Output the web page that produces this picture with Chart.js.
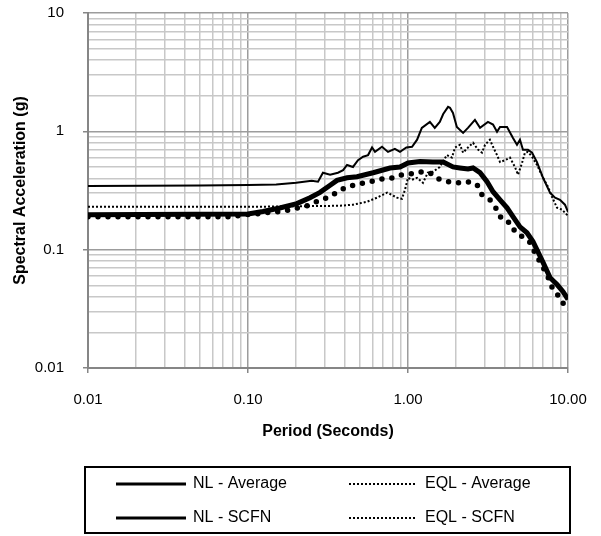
<!DOCTYPE html>
<html>
<head>
<meta charset="utf-8">
<script src="https://cdn.jsdelivr.net/npm/chart.js@4.4.1/dist/chart.umd.min.js"></script>
<style>
  html, body { margin: 0; padding: 0; background: #fff; }
</style>
</head>
<body>
<canvas id="spectra" width="601" height="536"></canvas>
<script>
// ======== Data ========
const seriesNames = ['NL - Average', 'EQL - Average', 'NL - SCFN', 'EQL - SCFN']

const nlAvgPeriod = [0.01, 0.1, 0.124, 0.158, 0.202, 0.244, 0.282, 0.326, 0.36, 0.416, 0.48, 0.605, 0.772, 0.891, 1.0, 1.19, 1.43, 1.66, 1.91, 2.11, 2.37, 2.55, 2.82, 3.12, 3.40, 3.76, 4.16, 4.53, 5.01, 5.54, 6.04, 6.49, 6.98, 7.72, 8.54, 9.31, 10]
const nlAvgSa = [0.197, 0.2, 0.21, 0.225, 0.245, 0.275, 0.305, 0.35, 0.385, 0.405, 0.413, 0.447, 0.49, 0.50, 0.54, 0.555, 0.55, 0.55, 0.50, 0.49, 0.48, 0.49, 0.447, 0.375, 0.309, 0.264, 0.226, 0.19, 0.156, 0.139, 0.117, 0.096, 0.078, 0.058, 0.0507, 0.0442, 0.038]

const eqlAvgPeriod = [0.01, 0.077, 0.0957, 0.111, 0.128, 0.152, 0.175, 0.202, 0.234, 0.27, 0.312, 0.36, 0.404, 0.467, 0.538, 0.622, 0.698, 0.806, 0.917, 1.06, 1.22, 1.37, 1.54, 1.78, 2.05, 2.37, 2.70, 2.90, 3.25, 3.50, 3.87, 4.34, 4.66, 5.16, 5.79, 6.22, 6.68, 7.40, 8.06, 8.91, 9.57, 10]
const eqlAvgSa = [0.19, 0.19, 0.197, 0.2, 0.205, 0.209, 0.215, 0.225, 0.235, 0.255, 0.275, 0.305, 0.334, 0.354, 0.367, 0.382, 0.397, 0.405, 0.43, 0.438, 0.455, 0.447, 0.397, 0.375, 0.367, 0.375, 0.354, 0.291, 0.264, 0.231, 0.179, 0.169, 0.142, 0.129, 0.115, 0.094, 0.079, 0.0615, 0.046, 0.0394, 0.033, 0.031]

const nlScfnPeriod = [0.01, 0.05, 0.1, 0.15, 0.2, 0.25, 0.274, 0.294, 0.326, 0.365, 0.393, 0.416, 0.453, 0.487, 0.524, 0.563, 0.596, 0.622, 0.688, 0.75, 0.828, 0.891, 0.977, 1.06, 1.14, 1.22, 1.37, 1.47, 1.58, 1.66, 1.78, 1.83, 1.91, 2.02, 2.21, 2.37, 2.62, 2.82, 3.16, 3.40, 3.60, 3.76, 4.16, 4.53, 4.80, 5.01, 5.23, 5.62, 5.96, 6.40, 6.98, 7.72, 8.30, 8.91, 9.57, 10]
const nlScfnSa = [0.345, 0.348, 0.352, 0.356, 0.367, 0.382, 0.375, 0.447, 0.43, 0.447, 0.47, 0.52, 0.50, 0.57, 0.61, 0.63, 0.73, 0.67, 0.74, 0.67, 0.71, 0.67, 0.73, 0.74, 0.85, 1.07, 1.20, 1.07, 1.20, 1.40, 1.61, 1.58, 1.43, 1.09, 0.97, 1.07, 1.25, 1.07, 1.20, 1.14, 0.99, 1.09, 1.09, 0.88, 0.77, 0.85, 0.70, 0.70, 0.66, 0.55, 0.405, 0.303, 0.275, 0.264, 0.24, 0.209]

const eqlScfnPeriod = [0.01, 0.1, 0.376, 0.453, 0.555, 0.64, 0.74, 0.79, 0.853, 0.917, 0.957, 1.0, 1.06, 1.14, 1.24, 1.33, 1.43, 1.58, 1.75, 1.88, 1.97, 2.11, 2.21, 2.37, 2.55, 2.74, 2.90, 3.03, 3.25, 3.40, 3.60, 3.76, 4.04, 4.34, 4.66, 4.87, 5.16, 5.38, 5.62, 5.96, 6.40, 6.98, 7.50, 7.94, 8.54, 9.17, 9.86, 10]
const eqlScfnSa = [0.23, 0.23, 0.235, 0.24, 0.254, 0.275, 0.303, 0.291, 0.275, 0.269, 0.32, 0.405, 0.39, 0.405, 0.367, 0.447, 0.455, 0.50, 0.63, 0.60, 0.73, 0.77, 0.66, 0.73, 0.80, 0.70, 0.66, 0.77, 0.85, 0.74, 0.63, 0.55, 0.57, 0.60, 0.50, 0.43, 0.54, 0.66, 0.67, 0.61, 0.52, 0.405, 0.34, 0.28, 0.226, 0.218, 0.197, 0.19]

// axis decades and their labels
const xDecades = [0.01, 0.1, 1, 10]
const xTickLabels = ['0.01', '0.10', '1.00', '10.00']
const yDecades = [0.01, 0.1, 1, 10]
const yTickLabels = ['0.01', '0.1', '1', '10']

// ======== helpers ========
const toPoints = (xs, ys) => xs.map((x, i) => ({ x: x, y: ys[i] }))

// 1..9 per decade, so every log grid line is a tick
const logGrid = (decades) => {
    const vals = []
    for (let d = 0; d < decades.length - 1; d++) {
        for (let m = 1; m < 10; m++) vals.push(parseFloat((decades[d] * m).toPrecision(6)))
    }
    vals.push(decades[decades.length - 1])
    return vals
}

const isDecade = (v) => Math.abs(Math.log10(v) - Math.round(Math.log10(v))) < 1e-9

const labelFor = (decades, labels) => (v) => {
    const i = decades.findIndex(d => Math.abs(d - v) < d * 1e-6)
    return i >= 0 ? labels[i] : ''
}

const gridColor = (ctx) => (ctx.tick && isDecade(ctx.tick.value)) ? '#9c9c9c' : '#c8c8c8'
const tickMarkColor = (ctx) => (ctx.tick && isDecade(ctx.tick.value)) ? '#868686' : 'rgba(0,0,0,0)'

// legend drawn as a boxed 2x2 table, like the spreadsheet one
const boxLegend = {
    id: 'boxLegend',
    afterDraw(chart) {
        const ctx = chart.ctx
        ctx.save()
        ctx.strokeStyle = '#000'
        ctx.lineWidth = 2
        ctx.strokeRect(85, 467, 485, 66)

        const cols = [{ x0: 116, x1: 186, tx: 193 }, { x0: 349, x1: 417, tx: 425 }]
        const rows = [484, 518]
        ctx.font = '16px "Liberation Sans", Arial, sans-serif'
        ctx.textBaseline = 'middle'
        ctx.fillStyle = '#000'
        seriesNames.forEach((name, i) => {
            const c = cols[i % 2]
            const y = rows[Math.floor(i / 2)]
            ctx.beginPath()
            if (i % 2 === 0) {
                ctx.setLineDash([])
                ctx.lineWidth = 3
            } else {
                ctx.setLineDash([2, 2])
                ctx.lineWidth = 2
            }
            ctx.moveTo(c.x0, y)
            ctx.lineTo(c.x1, y)
            ctx.stroke()
            ctx.fillText(name, c.tx, y)
        })
        ctx.restore()
    }
}

const tickFont = { family: '"Liberation Sans", Arial, sans-serif', size: 15 }
const titleFont = { family: '"Liberation Sans", Arial, sans-serif', size: 16, weight: 'bold' }

new Chart(document.getElementById('spectra').getContext('2d'), {
    type: 'line',
    data: {
        datasets: [
            {
                label: seriesNames[2],
                data: toPoints(nlScfnPeriod, nlScfnSa),
                borderColor: '#000',
                borderWidth: 2,
                pointRadius: 0,
                tension: 0
            },
            {
                label: seriesNames[3],
                data: toPoints(eqlScfnPeriod, eqlScfnSa),
                borderColor: '#000',
                borderWidth: 2,
                borderDash: [2, 2],
                pointRadius: 0,
                tension: 0
            },
            {
                label: seriesNames[1],
                data: toPoints(eqlAvgPeriod, eqlAvgSa),
                borderColor: '#000',
                borderWidth: 5.5,
                borderDash: [0, 10],
                borderCapStyle: 'round',
                pointRadius: 0,
                tension: 0
            },
            {
                label: seriesNames[0],
                data: toPoints(nlAvgPeriod, nlAvgSa),
                borderColor: '#000',
                borderWidth: 5,
                pointRadius: 0,
                tension: 0
            }
        ]
    },
    options: {
        responsive: false,
        animation: false,
        devicePixelRatio: 1,
        layout: { padding: { left: 0, right: 33, top: 13, bottom: 88 } },
        plugins: {
            legend: { display: false },
            tooltip: { enabled: false }
        },
        scales: {
            x: {
                type: 'logarithmic',
                min: 0.01,
                max: 10,
                afterBuildTicks: (s) => { s.ticks = logGrid(xDecades).map(v => ({ value: v })) },
                // fixed axis band; label overhang is covered by the layout padding
                afterFit: (s) => { s.height = 80; s.paddingLeft = 0; s.paddingRight = 0 },
                ticks: {
                    autoSkip: false,
                    maxRotation: 0,
                    padding: 18,
                    color: '#000',
                    font: tickFont,
                    callback: labelFor(xDecades, xTickLabels)
                },
                grid: {
                    color: gridColor,
                    lineWidth: 1.5,
                    tickColor: tickMarkColor,
                    tickLength: 5,
                    tickWidth: 1.5
                },
                border: { color: '#868686', width: 2 },
                title: {
                    display: true,
                    text: 'Period (Seconds)',
                    color: '#000',
                    font: titleFont,
                    padding: { top: 0, bottom: 7 }
                }
            },
            y: {
                type: 'logarithmic',
                min: 0.01,
                max: 10,
                afterBuildTicks: (s) => { s.ticks = logGrid(yDecades).map(v => ({ value: v })) },
                afterFit: (s) => { s.width = 88; s.paddingTop = 0; s.paddingBottom = 0 },
                ticks: {
                    autoSkip: false,
                    padding: 19,
                    color: '#000',
                    font: tickFont,
                    callback: labelFor(yDecades, yTickLabels)
                },
                grid: {
                    color: gridColor,
                    lineWidth: 1.5,
                    tickColor: tickMarkColor,
                    tickLength: 5,
                    tickWidth: 1.5
                },
                border: { color: '#868686', width: 2 },
                title: {
                    display: true,
                    text: 'Spectral Acceleration (g)',
                    color: '#000',
                    font: titleFont,
                    padding: { top: 11, bottom: 0 }
                }
            }
        }
    },
    plugins: [boxLegend]
})
</script>
</body>
</html>
